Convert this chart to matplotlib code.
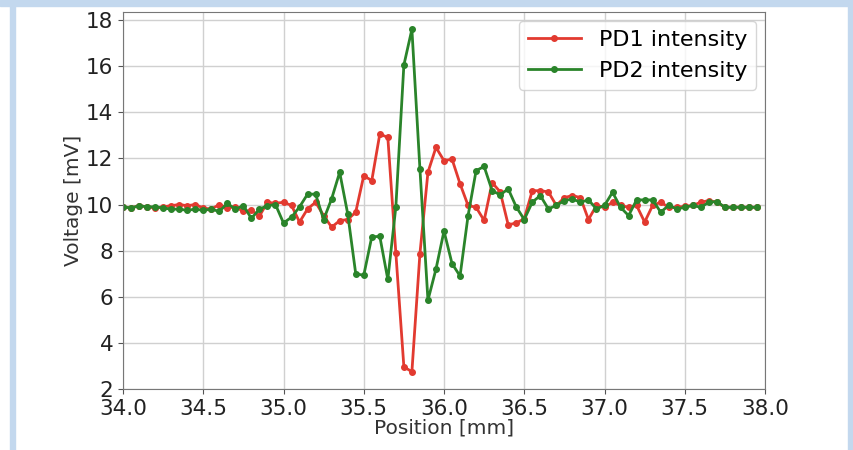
import numpy as np
import matplotlib
matplotlib.use("Agg")
import matplotlib.pyplot as plt
from matplotlib.patches import Rectangle

# scan positions (mm), 0.05 mm steps
position = np.round(np.linspace(34.0, 37.95, 80), 2)

pd1 = [9.9, 9.85, 9.95, 9.9, 9.85, 9.9, 9.95, 10.0, 9.95, 10.0,
       9.85, 9.8, 10.0, 9.85, 9.9, 9.7, 9.75, 9.5, 10.1, 10.05,
       10.1, 9.96, 9.24, 9.81, 10.1, 9.52, 9.02, 9.3, 9.35, 9.67,
       11.25, 11.04, 13.06, 12.91, 7.9, 2.96, 2.75, 7.87, 11.4, 12.48,
       11.9, 11.97, 10.9, 9.96, 9.88, 9.31, 10.95, 10.55, 9.12, 9.2,
       9.38, 10.6, 10.6, 10.55, 9.96, 10.3, 10.39, 10.3, 9.35, 9.96,
       9.88, 10.1, 9.96, 9.88, 9.96, 9.24, 9.96, 10.1, 9.88, 9.88,
       9.92, 9.96, 10.1, 10.17, 10.1, 9.88, 9.88, 9.88, 9.88, 9.88]

pd2 = [9.9, 9.85, 9.95, 9.9, 9.9, 9.85, 9.8, 9.8, 9.75, 9.8,
       9.75, 9.8, 9.7, 10.05, 9.8, 9.95, 9.4, 9.8, 9.95, 10.0,
       9.2, 9.45, 9.9, 10.45, 10.45, 9.35, 10.25, 11.4, 9.6, 7.0,
       6.93, 8.6, 8.62, 6.75, 9.9, 16.05, 17.6, 11.54, 5.85, 7.2,
       8.85, 7.44, 6.9, 9.52, 11.47, 11.65, 10.6, 10.42, 10.68, 9.9,
       9.35, 10.1, 10.39, 9.81, 9.96, 10.17, 10.24, 10.1, 10.2, 9.81,
       9.96, 10.53, 9.88, 9.52, 10.2, 10.2, 10.2, 9.67, 9.96, 9.81,
       9.88, 9.96, 9.88, 10.1, 10.13, 9.88, 9.88, 9.88, 9.88, 9.88]

fig = plt.figure(figsize=(8.54, 4.5), dpi=100)

# window frame around the figure
frame = '#c3d8ee'
fig.add_artist(Rectangle((0, 1 - 6 / 450), 1, 6 / 450, color=frame, transform=fig.transFigure))
fig.add_artist(Rectangle((10 / 854, 0), 5 / 854, 1, color=frame, transform=fig.transFigure))
fig.add_artist(Rectangle((848 / 854, 0), 6 / 854, 1, color=frame, transform=fig.transFigure))

ax = fig.add_axes([123 / 854, 1 - 389 / 450, 642 / 854, 377 / 450])
ax.plot(position, pd1, color='#e23a30', marker='o', markersize=4, linewidth=2, label='PD1 intensity')
ax.plot(position, pd2, color='#2a842a', marker='o', markersize=4, linewidth=2, label='PD2 intensity')

ax.set_xlim(34.0, 38.0)
ax.set_ylim(2, 18.35)
ax.set_xticks([34.0, 34.5, 35.0, 35.5, 36.0, 36.5, 37.0, 37.5, 38.0])
ax.set_yticks([2, 4, 6, 8, 10, 12, 14, 16, 18])
ax.tick_params(labelsize=15.5, color='#555555', labelcolor='#222222')
ax.set_xlabel("Position [mm]", fontsize=14.5, labelpad=0, color='#333333')
ax.set_ylabel("Voltage [mV]", fontsize=14.5, labelpad=2, color='#333333')
ax.grid(True, color='#d0d0d0', linewidth=1)
for s in ax.spines.values():
    s.set_color('#777777')
ax.legend(loc='upper right', fontsize=16, handlelength=2.4, borderaxespad=0.4)

plt.savefig("out.png", dpi=100)
